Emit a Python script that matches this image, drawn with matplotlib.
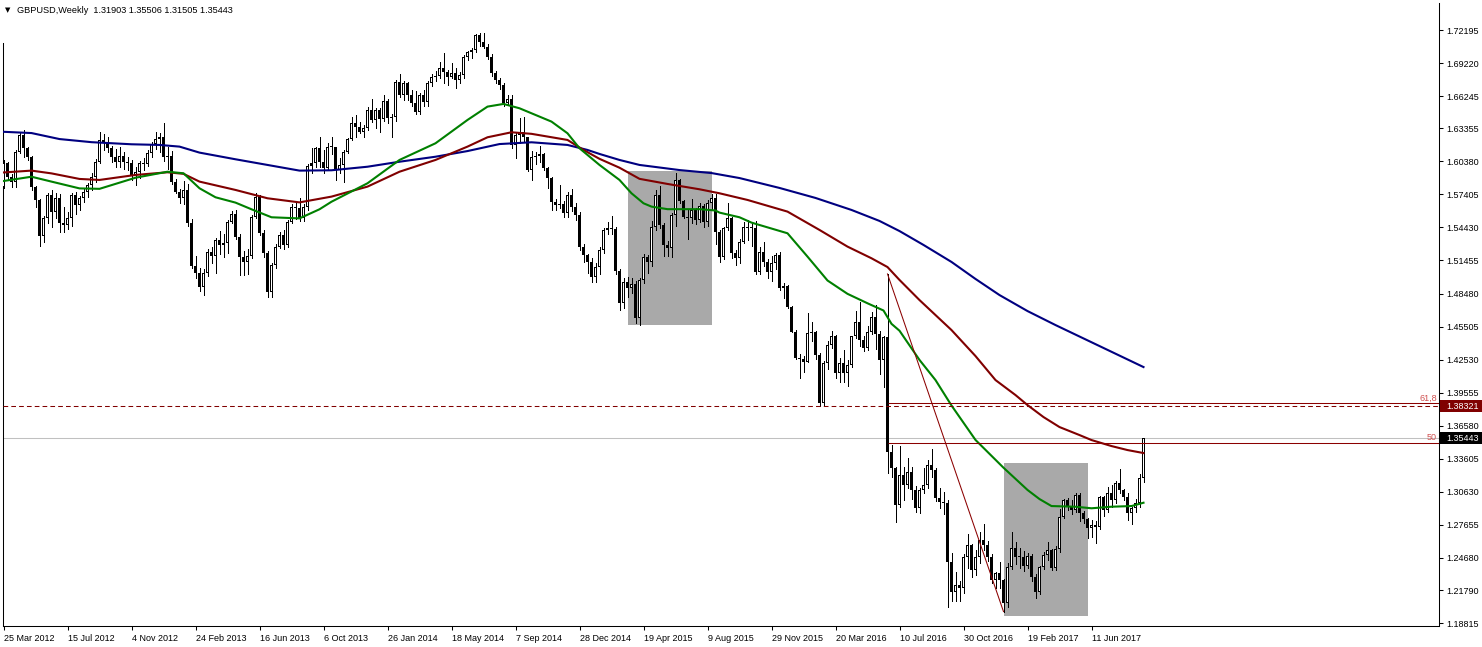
import numpy as np
import matplotlib
matplotlib.use("Agg")
from matplotlib import pyplot as plt
from matplotlib.patches import Rectangle
from matplotlib.transforms import blended_transform_factory

plt.rcParams['font.family'] = ['Liberation Sans', 'DejaVu Sans']

SYMBOL = "GBPUSD,Weekly"

# weekly bars, first one is the week of 25 Mar 2012.
# every bar opens at the close of the bar before it
first_open = 1.5810
closes = [
    1.6020, 1.5900, 1.5855, 1.6125, 1.6275, 1.6155, 1.6080, 1.5810, 1.5690, 1.5365,
    1.5525, 1.5735, 1.5585, 1.5705, 1.5480, 1.5465, 1.5525, 1.5735, 1.5645, 1.5705,
    1.5765, 1.5825, 1.5900, 1.6035, 1.6230, 1.6215, 1.6155, 1.6080, 1.6035, 1.6090,
    1.6030, 1.6020, 1.5915, 1.5945, 1.6025, 1.6010, 1.6115, 1.6195, 1.6235, 1.6255,
    1.6080, 1.6085, 1.5855, 1.5765, 1.5705, 1.5780, 1.5485, 1.5100, 1.5030, 1.4910,
    1.5030, 1.5225, 1.5185, 1.5330, 1.5285, 1.5300, 1.5495, 1.5560, 1.5360, 1.5180,
    1.5135, 1.5190, 1.5540, 1.5720, 1.5390, 1.5210, 1.4865, 1.5105, 1.5270, 1.5375,
    1.5285, 1.5495, 1.5630, 1.5615, 1.5525, 1.5630, 1.6000, 1.6020, 1.6155, 1.6035,
    1.5975, 1.6170, 1.6165, 1.5960, 1.6005, 1.6125, 1.6235, 1.6380, 1.6350, 1.6305,
    1.6335, 1.6500, 1.6410, 1.6500, 1.6420, 1.6580, 1.6430, 1.6440, 1.6755, 1.6635,
    1.6740, 1.6635, 1.6560, 1.6485, 1.6635, 1.6570, 1.6740, 1.6800, 1.6810, 1.6875,
    1.6845, 1.6800, 1.6835, 1.6770, 1.6815, 1.6980, 1.7025, 1.7040, 1.7175, 1.7115,
    1.7070, 1.6980, 1.6830, 1.6770, 1.6725, 1.6560, 1.6600, 1.6185, 1.6275, 1.6300,
    1.6255, 1.5960, 1.6080, 1.6085, 1.6100, 1.5975, 1.5885, 1.5675, 1.5645, 1.5650,
    1.5570, 1.5735, 1.5630, 1.5555, 1.5270, 1.5195, 1.5135, 1.5000, 1.5090, 1.5240,
    1.5420, 1.5440, 1.5425, 1.5055, 1.4760, 1.4955, 1.4895, 1.4935, 1.4625, 1.4970,
    1.5180, 1.5135, 1.5450, 1.5735, 1.5465, 1.5285, 1.5255, 1.5555, 1.5870, 1.5680,
    1.5540, 1.5525, 1.5600, 1.5510, 1.5635, 1.5495, 1.5660, 1.5705, 1.5405, 1.5180,
    1.5435, 1.5525, 1.5210, 1.5165, 1.5315, 1.5450, 1.5440, 1.5435, 1.5045, 1.5225,
    1.5135, 1.5045, 1.5120, 1.5195, 1.4895, 1.4915, 1.4730, 1.4505, 1.4265, 1.4260,
    1.4235, 1.4495, 1.4500, 1.4295, 1.3860, 1.4220, 1.4385, 1.4465, 1.4130, 1.4225,
    1.4135, 1.4205, 1.4465, 1.4595, 1.4430, 1.4355, 1.4505, 1.4640, 1.4480, 1.4250,
    1.4460, 1.3425, 1.3275, 1.2945, 1.3215, 1.3125, 1.3245, 1.3080, 1.2915, 1.3080,
    1.3125, 1.3305, 1.3260, 1.3005, 1.2975, 1.2960, 1.2430, 1.2165, 1.2225, 1.2195,
    1.2480, 1.2585, 1.2360, 1.2480, 1.2630, 1.2585, 1.2480, 1.2270, 1.2330, 1.2270,
    1.2060, 1.2390, 1.2560, 1.2480, 1.2475, 1.2400, 1.2490, 1.2300, 1.2165, 1.2390,
    1.2495, 1.2540, 1.2375, 1.2545, 1.2840, 1.2990, 1.2930, 1.2900, 1.3035, 1.2870,
    1.2815, 1.2735, 1.2765, 1.2750, 1.3020, 1.2900, 1.3050, 1.2990, 1.3140, 1.3080,
    1.3020, 1.2870, 1.2915, 1.2960, 1.31903, 1.35443,
]
highs = [
    1.6050, 1.6030, 1.5920, 1.6140, 1.6290, 1.6320, 1.6170, 1.6090, 1.5820, 1.5700,
    1.5550, 1.5750, 1.5780, 1.5750, 1.5740, 1.5630, 1.5580, 1.5750, 1.5760, 1.5730,
    1.5790, 1.5840, 1.5935, 1.6060, 1.6305, 1.6280, 1.6260, 1.6175, 1.6150, 1.6170,
    1.6125, 1.6080, 1.6050, 1.5990, 1.6040, 1.6070, 1.6140, 1.6210, 1.6305, 1.6290,
    1.6380, 1.6170, 1.6130, 1.5880, 1.5790, 1.5860, 1.5830, 1.5520, 1.5190, 1.5075,
    1.5070, 1.5245, 1.5265, 1.5345, 1.5415, 1.5380, 1.5510, 1.5590, 1.5600, 1.5380,
    1.5230, 1.5250, 1.5555, 1.5750, 1.5735, 1.5420, 1.5230, 1.5120, 1.5290, 1.5400,
    1.5420, 1.5510, 1.5650, 1.5660, 1.5705, 1.5650, 1.6015, 1.6160, 1.6170, 1.6260,
    1.6140, 1.6200, 1.6260, 1.6170, 1.6065, 1.6140, 1.6250, 1.6440, 1.6455, 1.6395,
    1.6365, 1.6530, 1.6600, 1.6515, 1.6515, 1.6635, 1.6600, 1.6460, 1.6770, 1.6825,
    1.6760, 1.6755, 1.6680, 1.6675, 1.6650, 1.6680, 1.6760, 1.6820, 1.6850, 1.6935,
    1.7010, 1.6860, 1.6920, 1.6875, 1.6840, 1.6995, 1.7030, 1.7055, 1.7185, 1.7195,
    1.7192, 1.7090, 1.7000, 1.6850, 1.6790, 1.6740, 1.6635, 1.6635, 1.6300, 1.6430,
    1.6440, 1.6230, 1.6130, 1.6120, 1.6180, 1.6110, 1.5985, 1.5895, 1.5700, 1.5825,
    1.5680, 1.5760, 1.5785, 1.5660, 1.5580, 1.5290, 1.5200, 1.5170, 1.5120, 1.5270,
    1.5440, 1.5495, 1.5550, 1.5450, 1.5070, 1.4990, 1.5000, 1.4990, 1.4960, 1.4985,
    1.5200, 1.5195, 1.5500, 1.5780, 1.5815, 1.5480, 1.5320, 1.5570, 1.5930, 1.5880,
    1.5690, 1.5600, 1.5700, 1.5620, 1.5660, 1.5650, 1.5690, 1.5740, 1.5745, 1.5420,
    1.5450, 1.5660, 1.5540, 1.5240, 1.5340, 1.5490, 1.5510, 1.5480, 1.5505, 1.5270,
    1.5315, 1.5160, 1.5190, 1.5215, 1.5220, 1.4940, 1.4925, 1.4735, 1.4520, 1.4300,
    1.4290, 1.4670, 1.4590, 1.4515, 1.4310, 1.4240, 1.4420, 1.4515, 1.4475, 1.4265,
    1.4340, 1.4250, 1.4470, 1.4690, 1.4775, 1.4470, 1.4555, 1.4680, 1.4745, 1.4510,
    1.4470, 1.5024, 1.3485, 1.3290, 1.3480, 1.3290, 1.3365, 1.3290, 1.3120, 1.3100,
    1.3275, 1.3350, 1.3445, 1.3280, 1.3100, 1.3060, 1.2990, 1.2510, 1.2340, 1.2260,
    1.2500, 1.2680, 1.2590, 1.2540, 1.2705, 1.2775, 1.2620, 1.2500, 1.2345, 1.2430,
    1.2280, 1.2420, 1.2705, 1.2610, 1.2560, 1.2530, 1.2510, 1.2500, 1.2320, 1.2400,
    1.2520, 1.2615, 1.2550, 1.2580, 1.2905, 1.3000, 1.3010, 1.2990, 1.3050, 1.3050,
    1.2890, 1.2830, 1.2810, 1.2800, 1.3030, 1.3030, 1.3110, 1.3125, 1.3160, 1.3265,
    1.3090, 1.3050, 1.2930, 1.3000, 1.3220, 1.35506,
]
lows = [
    1.5795, 1.5870, 1.5810, 1.5810, 1.6110, 1.6080, 1.6050, 1.5780, 1.5630, 1.5275,
    1.5315, 1.5480, 1.5450, 1.5530, 1.5405, 1.5400, 1.5430, 1.5460, 1.5560, 1.5600,
    1.5670, 1.5720, 1.5780, 1.5855, 1.6020, 1.6140, 1.6120, 1.6030, 1.5990, 1.5990,
    1.5970, 1.5960, 1.5870, 1.5825, 1.5890, 1.5960, 1.6000, 1.6080, 1.6145, 1.6120,
    1.6040, 1.5970, 1.5830, 1.5750, 1.5660, 1.5650, 1.5460, 1.5080, 1.4985, 1.4870,
    1.4832, 1.5010, 1.5120, 1.5030, 1.5200, 1.5180, 1.5210, 1.5480, 1.5340, 1.5015,
    1.5015, 1.5020, 1.5170, 1.5525, 1.5375, 1.5175, 1.4814, 1.4820, 1.5080, 1.5255,
    1.5250, 1.5270, 1.5480, 1.5520, 1.5500, 1.5500, 1.5600, 1.5935, 1.5990, 1.5990,
    1.5930, 1.5960, 1.6100, 1.5870, 1.5930, 1.5855, 1.6110, 1.6230, 1.6260, 1.6290,
    1.6260, 1.6320, 1.6395, 1.6335, 1.6305, 1.6400, 1.6380, 1.6260, 1.6400, 1.6620,
    1.6590, 1.6590, 1.6540, 1.6465, 1.6465, 1.6540, 1.6540, 1.6720, 1.6760, 1.6790,
    1.6740, 1.6725, 1.6790, 1.6695, 1.6740, 1.6790, 1.6950, 1.6965, 1.7020, 1.7080,
    1.7060, 1.6960, 1.6810, 1.6740, 1.6690, 1.6540, 1.6550, 1.6160, 1.6065, 1.6200,
    1.6220, 1.5950, 1.5870, 1.6010, 1.6030, 1.5960, 1.5795, 1.5600, 1.5600, 1.5615,
    1.5540, 1.5540, 1.5590, 1.5510, 1.5240, 1.5130, 1.5035, 1.4955, 1.4955, 1.5020,
    1.5210, 1.5380, 1.5380, 1.5020, 1.4700, 1.4720, 1.4820, 1.4850, 1.4585, 1.4565,
    1.4940, 1.5030, 1.5100, 1.5420, 1.5440, 1.5185, 1.5185, 1.5175, 1.5460, 1.5660,
    1.5530, 1.5335, 1.5480, 1.5470, 1.5490, 1.5445, 1.5460, 1.5610, 1.5290, 1.5130,
    1.5160, 1.5420, 1.5170, 1.5105, 1.5125, 1.5300, 1.5330, 1.5280, 1.5025, 1.5020,
    1.5100, 1.4990, 1.4960, 1.5070, 1.4880, 1.4810, 1.4720, 1.4500, 1.4255, 1.4085,
    1.4145, 1.4230, 1.4420, 1.4260, 1.3840, 1.3836, 1.4170, 1.4360, 1.4085, 1.4055,
    1.4055, 1.4015, 1.4190, 1.4450, 1.4380, 1.4330, 1.4340, 1.4480, 1.4350, 1.4120,
    1.4010, 1.3230, 1.3200, 1.2795, 1.2930, 1.2990, 1.3100, 1.3000, 1.2880, 1.2870,
    1.3050, 1.3100, 1.3200, 1.2985, 1.2915, 1.2860, 1.2025, 1.2085, 1.2080, 1.2080,
    1.2150, 1.2380, 1.2300, 1.2315, 1.2420, 1.2540, 1.2445, 1.2240, 1.2200, 1.2200,
    1.1985, 1.2030, 1.2365, 1.2410, 1.2380, 1.2350, 1.2380, 1.2260, 1.2110, 1.2140,
    1.2370, 1.2450, 1.2360, 1.2360, 1.2520, 1.2830, 1.2900, 1.2860, 1.2880, 1.2800,
    1.2780, 1.2650, 1.2660, 1.2600, 1.2730, 1.2850, 1.2880, 1.2930, 1.2960, 1.3050,
    1.2990, 1.2810, 1.2775, 1.2880, 1.2930, 1.31505,
]

# time axis labels, every 16 weeks
date_weeks = [0, 16, 32, 48, 64, 80, 96, 112, 128, 144, 160, 176, 192, 208, 224, 240, 256, 272]
date_labels = ["25 Mar 2012", "15 Jul 2012", "4 Nov 2012", "24 Feb 2013", "16 Jun 2013",
               "6 Oct 2013", "26 Jan 2014", "18 May 2014", "7 Sep 2014", "28 Dec 2014",
               "19 Apr 2015", "9 Aug 2015", "29 Nov 2015", "20 Mar 2016", "10 Jul 2016",
               "30 Oct 2016", "19 Feb 2017", "11 Jun 2017"]

price_labels = ["1.72195", "1.69220", "1.66245", "1.63355", "1.60380", "1.57405", "1.54430",
                "1.51455", "1.48480", "1.45505", "1.42530", "1.39555", "1.36580", "1.33605",
                "1.30630", "1.27655", "1.24680", "1.21790", "1.18815"]

# moving averages (week, price)
green_weeks = [-1, 7, 12, 19, 24, 33, 41, 45, 49, 53, 58, 62, 67, 74, 79, 82, 91, 99, 108,
               116, 121, 125, 129, 132, 137, 141, 144, 149, 154, 157, 160, 162, 166, 174,
               178, 179, 184, 187, 196, 201, 206, 211, 216, 220, 222, 224, 229, 233, 237,
               243, 250, 256, 259, 262, 268, 272, 277, 282, 285]
green_vals = [1.5855, 1.5899, 1.5855, 1.5794, 1.5790, 1.5890, 1.5944, 1.5930, 1.5795, 1.5714,
              1.5666, 1.5606, 1.5534, 1.5524, 1.5606, 1.5674, 1.5840, 1.6050, 1.6200,
              1.6410, 1.6530, 1.6554, 1.6515, 1.6470, 1.6395, 1.6290, 1.6155, 1.6005, 1.5870,
              1.5750, 1.5660, 1.5630, 1.5607, 1.5607, 1.5595, 1.5576, 1.5534, 1.5486, 1.5390,
              1.5180, 1.4965, 1.4845, 1.4760, 1.4695, 1.4575, 1.4513, 1.4250, 1.4069, 1.3840,
              1.3530, 1.3280, 1.3080, 1.2998, 1.2935, 1.2929, 1.2915, 1.2929, 1.2935, 1.2965]

red_weeks = [-1, 7, 12, 19, 24, 33, 41, 45, 49, 58, 66, 74, 82, 91, 99, 108, 116, 121, 127,
             132, 141, 145, 149, 154, 159, 166, 174, 179, 186, 196, 204, 211, 217, 221, 224,
             229, 237, 243, 248, 253, 256, 260, 264, 269, 272, 277, 281, 285]
red_vals = [1.5935, 1.5954, 1.5929, 1.5879, 1.5870, 1.5915, 1.5939, 1.5925, 1.5855, 1.5780,
            1.5705, 1.5668, 1.5720, 1.5810, 1.5944, 1.6050, 1.6170, 1.6254, 1.6299,
            1.6285, 1.6230, 1.6140, 1.6060, 1.5980, 1.5880, 1.5834, 1.5786, 1.5750, 1.5690,
            1.5585, 1.5420, 1.5270, 1.5165, 1.5086, 1.4970, 1.4789, 1.4519, 1.4285, 1.4069,
            1.3934, 1.3844, 1.3736, 1.3646, 1.3574, 1.3529, 1.3475, 1.3439, 1.3412]

blue_weeks = [-1, 7, 14, 22, 32, 39, 44, 49, 58, 66, 74, 82, 91, 99, 108, 116, 124, 132,
              141, 146, 149, 154, 159, 169, 177, 184, 194, 203, 212, 219, 224, 230, 237,
              243, 249, 256, 263, 274, 285]
blue_vals = [1.6305, 1.6292, 1.6238, 1.6210, 1.6191, 1.6185, 1.6170, 1.6116, 1.6056, 1.6005,
             1.5954, 1.5957, 1.5989, 1.6034, 1.6079, 1.6130, 1.6193, 1.6209, 1.6185, 1.6140,
             1.6104, 1.6050, 1.6005, 1.5959, 1.5932, 1.5887, 1.5798, 1.5708, 1.5600, 1.5501,
             1.5410, 1.5285, 1.5132, 1.4979, 1.4834, 1.4690, 1.4564, 1.4375, 1.4186]

# grey rectangles: first week, last week, top, bottom
boxes = [(156, 177, 1.5950, 1.4565), (250, 271, 1.3322, 1.1950)]

# fibonacci from the high of one week to the low of another
fibo_from = 221
fibo_to = 250
fibo_levels = [61.8, 50]

hline_price = 1.38321


W, H = 1482, 647
PX = 4.0  # pixels per bar
fig = plt.figure(figsize=(W / 100, H / 100), dpi=100)
ax = fig.add_axes([3 / W, 21 / H, 1436 / W, 623 / H])
x_left = -0.125
x_right = x_left + 1436 / PX
y_lo, y_hi = 1.18555, 1.74625
ax.set_xlim(x_left, x_right)
ax.set_ylim(y_lo, y_hi)
one_px = (y_hi - y_lo) / 623  # price per pixel

c = np.array(closes)
h = np.array(highs)
l = np.array(lows)
o = np.r_[first_open, c[:-1]]
weeks = np.arange(len(c))
up = c >= o
body_lo = np.minimum(o, c)
body_hi = np.maximum(o, c)
body_h = np.maximum(body_hi - body_lo, one_px)

for w0, w1, top, bot in boxes:
    ax.add_patch(Rectangle((w0, bot), w1 - w0, top - bot, facecolor='#A9A9A9',
                           edgecolor='none', zorder=1))

ax.vlines(weeks, np.minimum(l, body_lo), np.maximum(h, body_hi),
          color='black', lw=0.72, antialiased=False, zorder=2)
# body outline in black, white inside for rising weeks
ax.bar(weeks, body_h, bottom=body_lo, width=0.75, color='black', lw=0,
       antialiased=False, zorder=3)
inner = up & (body_h > 2.5 * one_px)
ax.bar(weeks[inner], body_h[inner] - 2 * one_px, bottom=body_lo[inner] + one_px,
       width=0.25, color='white', lw=0, antialiased=False, zorder=3.5)

for wk, vals, col in ((blue_weeks, blue_vals, '#000080'),
                      (red_weeks, red_vals, '#800000'),
                      (green_weeks, green_vals, '#008000')):
    ax.plot(wk, vals, color=col, lw=1.5, solid_joinstyle='round', zorder=4)

# fibonacci
fib_hi = h[fibo_from]
fib_lo = l[fibo_to]
ax.plot([fibo_from, fibo_to], [fib_hi, fib_lo], color='#8B0000', lw=0.75, zorder=5)
for lvl in fibo_levels:
    p = fib_lo + (fib_hi - fib_lo) * lvl / 100.0
    ax.hlines(p, fibo_from, x_right, color='#8B0000', lw=0.75, zorder=5)
    ax.text(x_right - 0.5, p + 0.0004, ("%g" % lvl).replace('.', ','), color='#D05050',
            fontsize=6.5, ha='right', va='bottom', zorder=6)

ax.axhline(hline_price, color='#800000', lw=0.75, ls=(0, (4.5, 3)), zorder=5)
ax.axhline(c[-1], color='#C0C0C0', lw=0.75, zorder=1.5)

# axes look
ax.spines['top'].set_visible(False)
for side in ('left', 'right', 'bottom'):
    ax.spines[side].set_linewidth(0.75)
ax.spines['left'].set_bounds(y_lo, 1.7103)

ax.yaxis.tick_right()
ax.set_yticks([float(t) for t in price_labels])
ax.set_yticklabels(price_labels)
ax.set_xticks(date_weeks)
ax.set_xticklabels(date_labels)
for lab in ax.get_xticklabels():
    lab.set_ha('left')
ax.tick_params(axis='y', direction='out', length=3, width=0.75, pad=2, labelsize=6.5)
ax.tick_params(axis='x', direction='out', length=3, width=0.75, pad=3, labelsize=6.5)

# price tags on the right scale
tr = blended_transform_factory(ax.transAxes, ax.transData)
for price, bg in ((hline_price, '#800000'), (c[-1], 'black')):
    ax.add_patch(Rectangle((1437 / 1436, price - 0.0054), 45 / 1436, 0.0108,
                           facecolor=bg, edgecolor='none', transform=tr, clip_on=False,
                           zorder=6))
    ax.text(1443 / 1436, price, "%.5f" % price, color='white', fontsize=6.5,
            ha='left', va='center', transform=tr, clip_on=False, zorder=7)

# header
fig.text(5 / W, 1 - 10.5 / H, "\u25bc", fontsize=5, va='center', family='DejaVu Sans')
fig.text(17 / W, 1 - 10.5 / H, "%s  %.5f %.5f %.5f %.5f" % (SYMBOL, o[-1], h[-1], l[-1], c[-1]),
         fontsize=6.6, va='center')

fig.savefig('out.png', dpi=100)
